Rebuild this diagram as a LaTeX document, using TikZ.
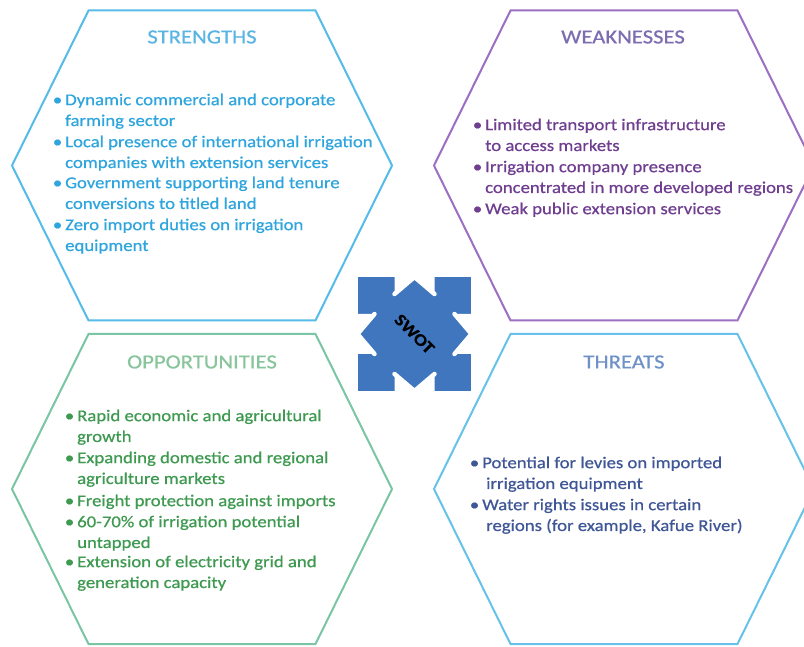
\documentclass[tikz,border=0pt]{standalone}
\usepackage{fontspec}
\setmainfont{Carlito}[FakeStretch=1.135, FakeBold=0.6]

% palette
\definecolor{sline}{HTML}{55BBE8}
\definecolor{stext}{HTML}{2FA5DE}
\definecolor{shead}{HTML}{5AB5E5}
\definecolor{wline}{HTML}{9C6FC2}
\definecolor{wtext}{HTML}{6F3E90}
\definecolor{whead}{HTML}{7C6CB0}
\definecolor{oline}{HTML}{79C5A4}
\definecolor{otext}{HTML}{3E9A50}
\definecolor{ohead}{HTML}{88C59C}
\definecolor{tline}{HTML}{66C2E8}
\definecolor{ttext}{HTML}{3F5796}
\definecolor{thead}{HTML}{6E92C8}
\definecolor{swotblue}{HTML}{3F76BE}

\newcommand{\bul}{\strut\llap{\textbullet\hspace{3pt}}}

\tikzset{
  hexa/.pic={\draw[pic actions] (-190,0) -- (-113.5,-155) -- (113.5,-155)
      -- (190,0) -- (113.5,155) -- (-113.5,155) -- cycle;},
  hexline/.style={line width=2pt, line join=miter},
  heading/.style={inner sep=0, font=\fontsize{20}{20}\selectfont},
  item/.style={anchor=north west, inner sep=0, align=left,
      font=\fontsize{16.5}{20.8}\selectfont},
  notch/.style={fill=white, draw=none},
  chevron/.style={draw=white, line width=4.5pt, line cap=round, line join=round},
}

\begin{document}
\begin{tikzpicture}[x=1pt, y=-1pt]
\useasboundingbox (0,0) rectangle (804,647);
\clip (0,0) rectangle (804,647);
\fill[white] (0,0) rectangle (804,647);

% the four hexagons
\pic[draw=sline, hexline] at (202,165.5) {hexa};
\pic[draw=wline, hexline] at (624,165.5) {hexa};
\pic[draw=oline, hexline] at (202,489) {hexa};
\pic[draw=tline, hexline] at (624,489) {hexa};

% headings
\node[heading, text=shead] (hS) at (202,37) {STRENGTHS};
\node[heading, text=whead] (hW) at (623,37) {WEAKNESSES};
\node[heading, text=ohead] (hO) at (202,362) {OPPORTUNITIES};
\node[heading, text=thead] (hT) at (624,362) {THREATS};

% strengths
\begin{scope}[every node/.style={item, text=stext}]
\node (s1) at (65,90.4)  {\bul Dynamic commercial and corporate\\farming sector};
\node (s2) at (65,132.4) {\bul Local presence of international irrigation\\companies with extension services};
\node (s3) at (65,173.4) {\bul Government supporting land tenure\\conversions to titled land};
\node (s4) at (65,215.4) {\bul Zero import duties on irrigation\\equipment};
\end{scope}

% weaknesses
\begin{scope}[every node/.style={item, text=wtext}]
\node (w1) at (485,115.4) {\bul Limited transport infrastructure\\to access markets};
\node (w2) at (485,157.4) {\bul Irrigation company presence\\concentrated in more developed regions};
\node (w3) at (485,199.4) {\bul Weak public extension services};
\end{scope}

% opportunities
\begin{scope}[every node/.style={item, text=otext}]
\node (o1) at (77,406.4) {\bul Rapid economic and agricultural\\growth};
\node (o2) at (77,448.4) {\bul Expanding domestic and regional\\agriculture markets};
\node (o3) at (77,491.4) {\bul Freight protection against imports};
\node (o4) at (77,512.4) {\bul 60-70\% of irrigation potential\\untapped};
\node (o5) at (77,552.4) {\bul Extension of electricity grid and\\generation capacity};
\end{scope}

% threats
\begin{scope}[every node/.style={item, text=ttext}]
\node (t1) at (482,453.4) {\bul Potential for levies on imported\\\hspace{4pt}irrigation equipment};
\node (t2) at (482,495.4) {\bul Water rights issues in certain\\\hspace{4pt}regions (for example, Kafue River)};
\end{scope}

% central SWOT block
\node[fill=swotblue, minimum size=113pt, inner sep=0] (sq) at (414.5,334) {};
\foreach \ang in {0,90,180,270}{
  \begin{scope}[shift={(sq.center)}, rotate=\ang]
    \fill[notch] (-20,-40) -- (-20,-58) -- (0,-58) -- cycle;
    \fill[notch] (20,-40) -- (20,-58) -- (0,-58) -- cycle;
    \draw[chevron] (-20,-40) -- (0,-57) -- (20,-40);
  \end{scope}
}
\node[rotate=-45, font=\bfseries\fontsize{17}{17}\selectfont, text=black] (swot) at (sq.center) {SWOT};
\end{tikzpicture}
\end{document}
